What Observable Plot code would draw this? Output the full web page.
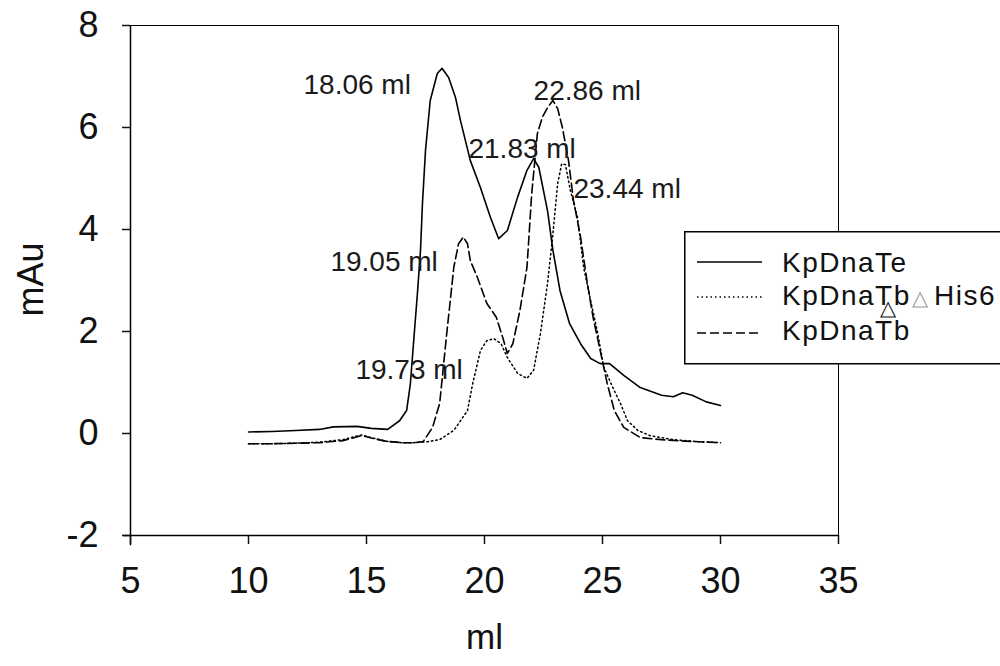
<!DOCTYPE html>
<html>
<head>
<meta charset="utf-8">
<script src="https://cdn.jsdelivr.net/npm/d3@7"></script>
<script src="https://cdn.jsdelivr.net/npm/@observablehq/plot@0.6"></script>
<style>
  html, body { margin: 0; padding: 0; background: #fff; overflow: hidden; }
  #wrap { position: relative; width: 1000px; height: 666px; overflow: hidden; font-family: "Liberation Sans", Arial, sans-serif; }
  #legend { position: absolute; left: 684px; top: 231px; }
</style>
</head>
<body>
<div id="wrap"></div>
<script>
// ---- data ----
const seriesNames = ["KpDnaTe", "KpDnaTb\u25B3His6", "KpDnaTb"];

const teX = [10, 11, 12, 13, 13.6, 14.6, 15.2, 15.9, 16.4, 16.7, 16.86, 16.99, 17.15, 17.29, 17.37, 17.5, 17.7, 18.0, 18.2, 18.48, 18.77, 18.98, 19.4, 19.83, 20.25, 20.6, 20.97, 21.4, 21.8, 22.08, 22.3, 22.67, 22.9, 23.2, 23.6, 24.07, 24.5, 24.9, 25.3, 25.9, 26.6, 27.5, 28.0, 28.4, 28.8, 29.4, 30];
const teY = [0.03, 0.04, 0.06, 0.08, 0.13, 0.14, 0.1, 0.08, 0.25, 0.45, 0.98, 1.76, 2.7, 3.6, 4.5, 5.55, 6.53, 7.06, 7.16, 6.98, 6.59, 6.14, 5.35, 4.82, 4.24, 3.82, 3.98, 4.63, 5.16, 5.39, 5.22, 4.37, 3.59, 2.8, 2.16, 1.76, 1.47, 1.37, 1.37, 1.14, 0.9, 0.75, 0.72, 0.8, 0.75, 0.62, 0.55];

const hisX = [10, 11, 12, 13, 14, 14.5, 14.8, 15.2, 15.8, 16.5, 17.0, 17.6, 18.1, 18.7, 19.28, 19.5, 19.83, 20.1, 20.4, 20.7, 20.97, 21.4, 21.8, 22.08, 22.37, 22.67, 22.9, 23.1, 23.27, 23.43, 23.64, 23.94, 24.2, 24.5, 24.8, 25.05, 25.5, 25.76, 26.06, 26.5, 27.0, 28, 29, 30];
const hisY = [-0.2, -0.2, -0.19, -0.17, -0.12, -0.06, -0.03, -0.08, -0.15, -0.18, -0.18, -0.16, -0.12, 0.06, 0.45, 0.98, 1.63, 1.82, 1.86, 1.76, 1.49, 1.18, 1.08, 1.24, 1.96, 2.94, 3.92, 4.9, 5.29, 5.27, 4.76, 4.24, 3.26, 2.6, 1.96, 1.3, 0.84, 0.59, 0.25, 0.06, -0.04, -0.12, -0.16, -0.18];

const tbX = [10, 11, 12, 13, 14, 14.5, 14.8, 15.2, 15.8, 16.5, 17.0, 17.4, 17.8, 18.1, 18.4, 18.7, 18.9, 19.1, 19.28, 19.4, 19.7, 20.1, 20.5, 20.76, 20.97, 21.2, 21.5, 21.8, 22.0, 22.24, 22.45, 22.67, 22.9, 23.1, 23.3, 23.56, 23.77, 24.07, 24.36, 24.6, 24.9, 25.2, 25.5, 25.9, 26.6, 27.5, 28.5, 30];
const tbY = [-0.2, -0.2, -0.19, -0.18, -0.14, -0.08, -0.04, -0.09, -0.15, -0.18, -0.18, -0.16, 0.12, 0.59, 1.96, 3.26, 3.72, 3.85, 3.72, 3.39, 3.06, 2.55, 2.28, 1.9, 1.57, 1.76, 2.41, 3.26, 4.7, 5.88, 6.2, 6.39, 6.53, 6.37, 6.0, 5.35, 4.57, 3.85, 2.94, 2.28, 1.63, 0.98, 0.45, 0.12, -0.08, -0.12, -0.15, -0.18];

const peakLabels = ["18.06 ml", "22.86 ml", "21.83 ml", "23.44 ml", "19.05 ml", "19.73 ml"];
const peakLabelX = [12.33, 22.08, 19.32, 23.77, 13.47, 14.53];
const peakLabelY = [6.84, 6.71, 5.57, 4.80, 3.37, 1.25];

const xTicks = [5, 10, 15, 20, 25, 30, 35];
const yTicks = [-2, 0, 2, 4, 6, 8];

// ---- build tables ----
const te = teX.map((x, i) => ({x, y: teY[i]}));
const his = hisX.map((x, i) => ({x, y: hisY[i]}));
const tb = tbX.map((x, i) => ({x, y: tbY[i]}));
const labels = peakLabels.map((t, i) => ({t, x: peakLabelX[i], y: peakLabelY[i]}));

const font = '"Liberation Sans", Arial, sans-serif';

const chart = Plot.plot({
  width: 1000,
  height: 666,
  marginLeft: 130,
  marginRight: 162,
  marginTop: 25,
  marginBottom: 131,
  style: {fontFamily: font, fontSize: "27px", color: "#111", background: "#fff"},
  x: {domain: [5, 35]},
  y: {domain: [-2, 8]},
  marks: [
    Plot.frame({stroke: "#000", strokeWidth: 1}),
    Plot.ruleX([5], {stroke: "#000", strokeWidth: 1.5, y1: -2.2, y2: 8, clip: false}),
    Plot.ruleY([-2], {stroke: "#000", strokeWidth: 1.5, x1: 4.7, x2: 35, clip: false}),
    Plot.axisX({ticks: xTicks, tickSize: 9, tickPadding: 23, tickFormat: d => String(d), label: null, fontSize: 36, strokeWidth: 1.5}),
    Plot.axisY({ticks: yTicks, tickSize: 8, tickPadding: 24, tickFormat: d => String(d), label: null, fontSize: 36, strokeWidth: 1.5}),
    Plot.line(te, {x: "x", y: "y", stroke: "#000", strokeWidth: 1.6}),
    Plot.line(his, {x: "x", y: "y", stroke: "#000", strokeWidth: 1.5, strokeDasharray: "1.5,3"}),
    Plot.line(tb, {x: "x", y: "y", stroke: "#000", strokeWidth: 1.6, strokeDasharray: "9,4"}),
    Plot.text(labels, {x: "x", y: "y", text: "t", textAnchor: "start", fontSize: 28, fill: "#1a1a1a"}),
    Plot.text(["ml"], {frameAnchor: "bottom", dy: 113, text: d => d, fontSize: 35, fill: "#111"}),
    Plot.text(["mAu"], {frameAnchor: "left", dx: -99, dy: 36, rotate: -90, text: d => d, fontSize: 36, fill: "#111"})
  ]
});
document.getElementById("wrap").appendChild(chart);

// ---- legend (SVG overlay) ----
const ns = "http://www.w3.org/2000/svg";
const lg = document.createElementNS(ns, "svg");
lg.setAttribute("id", "legend");
lg.setAttribute("width", 330);
lg.setAttribute("height", 136);
lg.style.fontFamily = font;
lg.innerHTML = `<rect x="0.75" y="0.75" width="340" height="132" fill="#fff" stroke="#000" stroke-width="1.5"/>`;
const dashes = [null, "1.5,3", "9,4"];
const sampleY = [31, 66, 102];
const baseY = [41, 74, 109];
seriesNames.forEach((name, i) => {
  const line = document.createElementNS(ns, "line");
  line.setAttribute("x1", 13); line.setAttribute("x2", 78);
  line.setAttribute("y1", sampleY[i]); line.setAttribute("y2", sampleY[i]);
  line.setAttribute("stroke", "#000"); line.setAttribute("stroke-width", 1.6);
  if (dashes[i]) line.setAttribute("stroke-dasharray", dashes[i]);
  lg.appendChild(line);
  const t = document.createElementNS(ns, "text");
  t.setAttribute("x", 98); t.setAttribute("y", baseY[i]);
  t.setAttribute("font-size", 28); t.setAttribute("fill", "#111");
  t.setAttribute("letter-spacing", "1.5");
  if (name.includes("\u25B3")) {
    const [a, b] = name.split("\u25B3");
    t.innerHTML = `<tspan>${a}</tspan><tspan x="196" y="${baseY[i] + 10}" font-size="21" fill="#111">\u25B3</tspan><tspan x="228" y="${baseY[i]}" font-size="21" fill="#999">\u25B3</tspan><tspan x="250" y="${baseY[i]}">${b}</tspan>`;
  } else {
    t.textContent = name;
  }
  lg.appendChild(t);
});
document.getElementById("wrap").appendChild(lg);
</script>
</body>
</html>
